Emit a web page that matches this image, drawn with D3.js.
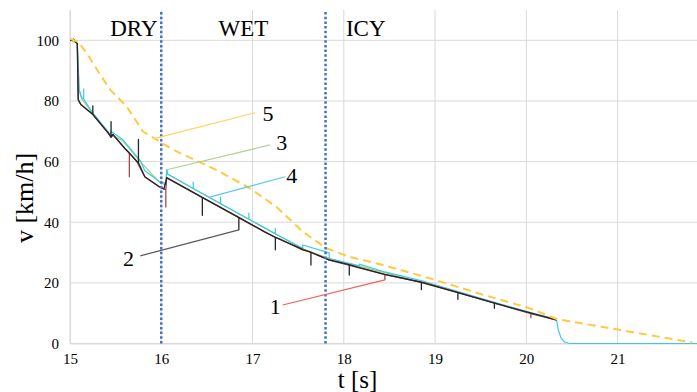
<!DOCTYPE html>
<html>
<head>
<meta charset="utf-8">
<script src="https://cdn.jsdelivr.net/npm/d3@7"></script>
<style>
  body { margin: 0; background: #fff; }
  svg text { font-family: "Liberation Serif", "Times New Roman", Times, "DejaVu Serif", serif; }
</style>
</head>
<body>
<div id="chart"></div>
<script>
// axis ticks
const xTicks = [15, 16, 17, 18, 19, 20, 21];
const yTicks = [0, 20, 40, 60, 80, 100];

// road surface zones
const zoneNames = ["DRY", "WET", "ICY"];
const zoneCenters = [15.70, 16.90, 18.24];
const zoneBounds = [16.0, 17.8];

// series [t, v]
const series1 = [[15.00,100],[15.04,100.3],[15.08,98.8],[15.09,80.3],[15.12,78.7],[15.25,75.5],[15.42,69.3],[15.45,68.0],[15.47,68.9],[15.60,64.3],[15.65,62.9],[15.65,55.0],[15.65,62.9],[15.73,60.1],[15.82,54.9],[15.98,51.6],[16.03,50.9],[16.05,50.7],[16.05,45.0],[16.05,50.7],[16.06,54.6],[17.13,36.8],[17.30,34.3],[17.84,27.5],[18.14,25.2],[18.45,22.7],[18.45,21.0],[18.45,22.7],[18.90,19.9],[20.05,9.8],[20.05,8.5],[20.05,9.8],[20.33,7.7]];

const series2 = [[15.00,100],[15.04,100.3],[15.08,98.8],[15.09,80.5],[15.12,78.8],[15.25,75.6],[15.25,78.4],[15.25,75.6],[15.42,69.4],[15.45,68.1],[15.45,73.2],[15.45,68.1],[15.47,69.0],[15.60,64.4],[15.73,60.2],[15.75,59.6],[15.75,67.3],[15.75,59.6],[15.82,55.0],[15.98,51.7],[16.03,51.0],[16.06,54.7],[16.45,48.2],[16.45,42.3],[16.45,48.2],[16.85,41.6],[16.85,37.5],[16.85,41.6],[17.13,36.9],[17.25,35.0],[17.25,30.9],[17.25,35.0],[17.30,34.4],[17.55,30.9],[17.64,30.1],[17.64,25.9],[17.64,30.1],[17.84,27.6],[18.06,26.0],[18.06,22.6],[18.06,26.0],[18.14,25.3],[18.45,22.8],[18.85,20.2],[18.85,17.8],[18.85,20.2],[19.25,16.8],[19.25,14.6],[19.25,16.8],[19.65,13.3],[19.65,11.6],[19.65,13.3],[20.33,7.8]];

const series3 = [[15.00,100],[15.08,99.0],[15.10,83.5],[15.13,80.6],[15.24,76.3],[15.44,69.0],[15.58,66.8],[15.77,60.0],[15.98,53.2],[16.05,52.2],[16.06,57.3],[16.07,55.8],[17.55,31.2],[17.84,28.0],[18.45,23.4],[20.33,7.9]];

const series4 = [[15.00,100],[15.04,100.4],[15.08,99.0],[15.10,83.8],[15.13,80.8],[15.15,81.0],[15.15,84.0],[15.15,80.6],[15.24,76.4],[15.44,69.0],[15.45,70.0],[15.58,67.2],[15.77,60.3],[15.82,57.0],[15.98,53.4],[16.04,52.9],[16.05,52.3],[16.06,57.3],[16.07,55.9],[16.35,51.1],[16.35,53.2],[16.35,51.1],[16.65,46.1],[16.65,48.3],[16.65,46.1],[16.96,41.0],[16.96,43.0],[16.96,41.0],[17.25,36.2],[17.25,38.0],[17.25,36.2],[17.55,31.4],[17.55,32.5],[17.84,29.9],[17.84,28.0],[18.17,25.6],[18.17,26.2],[18.45,23.6],[18.90,20.3],[20.00,10.5],[20.33,8.0],[20.35,4.5],[20.38,1.8],[20.42,0.5],[20.48,0],[21.87,0]];

const series5 = [[15.00,100.5],[15.09,99.5],[15.20,95.0],[15.29,90.6],[15.44,83.7],[15.62,78.2],[15.80,69.9],[15.95,67.2],[16.13,63.9],[16.60,57.3],[16.97,51.2],[17.26,45.1],[17.45,39.7],[17.55,36.9],[17.81,31.4],[18.06,28.6],[18.43,25.9],[19.00,21.0],[19.49,16.4],[20.03,11.7],[20.33,8.1],[21.02,4.5],[21.82,0.3]];

// callout labels: text, label position, leader start, leader end
const calloutNames = ["1", "2", "3", "4", "5"];
const calloutText = [[17.25,12.4],[15.64,28.2],[17.32,66.3],[17.43,55.4],[17.17,75.9]];
const calloutFrom = [[17.33,12.7],[15.77,28.9],[17.19,65.5],[17.36,55.0],[17.03,76.1]];
const calloutTo = [[18.45,21.0],[16.85,37.5],[16.06,57.3],[16.53,48.3],[15.91,67.5]];

const width = 697;
const height = 392;
const margin = ({top: 10, right: 0, bottom: 48.5, left: 70});
const serif = "'Liberation Serif', 'Times New Roman', Times, 'DejaVu Serif', serif";

const colors = {
  "1": "#a33a3a",
  "2": "#262626",
  "3": "#9bd07a",
  "4": "#3cc8ea",
  "5": "#ffc940"
};
const leaderColors = {
  "1": "#f4605c",
  "2": "#595959",
  "3": "#a9d18e",
  "4": "#5bc8ea",
  "5": "#ffd35c"
};

const x = d3.scaleLinear()
  .domain([15, 21.87])
  .range([margin.left, width - margin.right]);

const y = d3.scaleLinear()
  .domain([0, 110])
  .range([height - margin.bottom, margin.top]);

const svg = d3.select("#chart").append("svg")
  .attr("width", width)
  .attr("height", height)
  .attr("viewBox", [0, 0, width, height])
  .attr("font-family", serif);

// gridlines
svg.append("g")
  .attr("stroke", "#d9d9d9")
  .attr("stroke-width", 1)
  .selectAll("line")
  .data(yTicks)
  .join("line")
    .attr("x1", margin.left)
    .attr("x2", width - margin.right)
    .attr("y1", d => y(d))
    .attr("y2", d => y(d));

svg.append("g")
  .attr("stroke", "#d9d9d9")
  .attr("stroke-width", 1)
  .selectAll("line")
  .data(xTicks)
  .join("line")
    .attr("x1", d => x(d))
    .attr("x2", d => x(d))
    .attr("y1", y(0))
    .attr("y2", margin.top);

const xAxis = g => g
  .attr("transform", `translate(0,${y(0)})`)
  .call(d3.axisBottom(x).tickValues(xTicks).tickSize(0).tickPadding(10).tickFormat(d3.format("d")))
  .attr("font-family", serif)
  .call(g => g.select(".domain").attr("stroke", "#d9d9d9"))
  .call(g => g.selectAll("text").attr("font-size", 15).attr("fill", "#000"));

const yAxis = g => g
  .attr("transform", `translate(${margin.left},0)`)
  .call(d3.axisLeft(y).tickValues(yTicks).tickSize(0).tickPadding(11))
  .attr("font-family", serif)
  .call(g => g.select(".domain").attr("stroke", "#d9d9d9"))
  .call(g => g.selectAll("text").attr("font-size", 15).attr("fill", "#000"));

svg.append("g").call(xAxis);
svg.append("g").call(yAxis);

// axis titles
svg.append("text")
  .attr("x", x(18.15))
  .attr("y", 388)
  .attr("text-anchor", "middle")
  .attr("font-size", 25)
  .text("t [s]");

svg.append("text")
  .attr("transform", `translate(33,${y(48)}) rotate(-90)`)
  .attr("text-anchor", "middle")
  .attr("font-size", 26)
  .text("v [km/h]");

// zone labels
svg.append("g")
  .attr("font-size", 23)
  .attr("text-anchor", "middle")
  .selectAll("text")
  .data(zoneNames)
  .join("text")
    .attr("x", (d, i) => x(zoneCenters[i]))
    .attr("y", 36)
    .text(d => d);

const line = d3.line()
  .x(d => x(d[0]))
  .y(d => y(d[1]));

const curves = [
  {name: "3", values: series3},
  {name: "4", values: series4},
  {name: "1", values: series1},
  {name: "2", values: series2}
];

svg.append("g")
  .attr("fill", "none")
  .attr("stroke-linejoin", "round")
  .selectAll("path")
  .data(curves)
  .join("path")
    .attr("stroke", d => colors[d.name])
    .attr("stroke-width", d => d.name === "2" ? 1.3 : 1.2)
    .attr("d", d => line(d.values));

svg.append("path")
  .attr("fill", "none")
  .attr("stroke", colors["5"])
  .attr("stroke-width", 2)
  .attr("stroke-dasharray", "8,5")
  .attr("d", line(series5));

// zone boundaries
svg.append("g")
  .attr("stroke", "#4472c4")
  .attr("stroke-width", 2.5)
  .attr("stroke-dasharray", "2.5,2.2")
  .selectAll("line")
  .data(zoneBounds)
  .join("line")
    .attr("x1", d => x(d))
    .attr("x2", d => x(d))
    .attr("y1", y(0))
    .attr("y2", margin.top);

// callouts
svg.append("g")
  .attr("stroke-width", 1.2)
  .selectAll("line")
  .data(calloutNames)
  .join("line")
    .attr("stroke", d => leaderColors[d])
    .attr("x1", (d, i) => x(calloutFrom[i][0]))
    .attr("y1", (d, i) => y(calloutFrom[i][1]))
    .attr("x2", (d, i) => x(calloutTo[i][0]))
    .attr("y2", (d, i) => y(calloutTo[i][1]));

svg.append("g")
  .attr("font-size", 22)
  .attr("text-anchor", "middle")
  .selectAll("text")
  .data(calloutNames)
  .join("text")
    .attr("x", (d, i) => x(calloutText[i][0]))
    .attr("y", (d, i) => y(calloutText[i][1]))
    .attr("dy", "0.35em")
    .text(d => d);
</script>
</body>
</html>
